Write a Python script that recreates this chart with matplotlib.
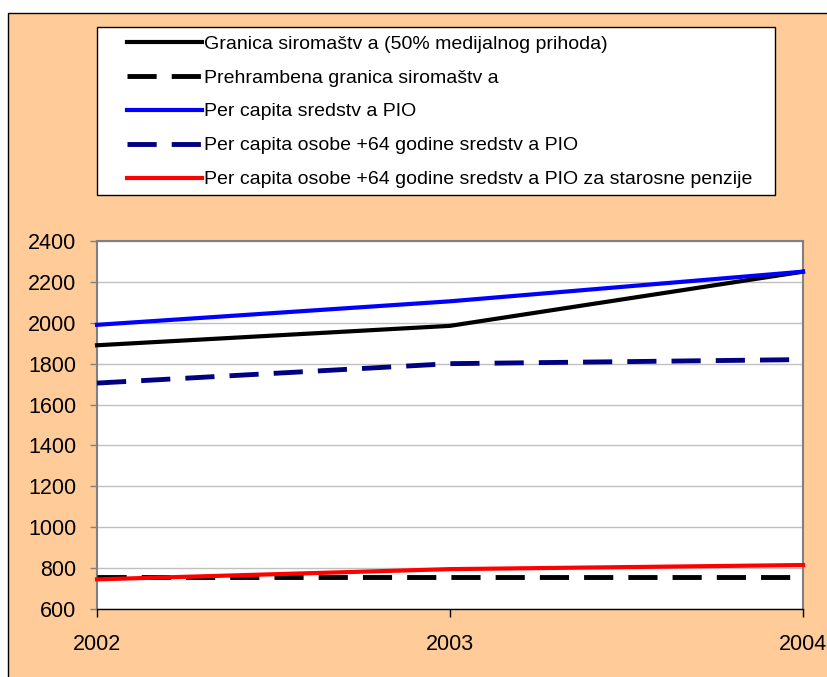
import matplotlib
matplotlib.use("Agg")
import matplotlib.pyplot as plt
from matplotlib.patches import Rectangle

plt.rcParams["font.family"] = ["Liberation Sans", "DejaVu Sans"]

years = ["2002", "2003", "2004"]
granica = [1890, 1985, 2250]
prehrambena = [755, 755, 755]
pio_per_capita = [1990, 2105, 2250]
pio_64 = [1705, 1800, 1820]
pio_64_starosne = [745, 795, 815]

labels = [
    "Granica siromaštv a (50% medijalnog prihoda)",
    "Prehrambena granica siromaštv a",
    "Per capita sredstv a PIO",
    "Per capita osobe +64 godine sredstv a PIO",
    "Per capita osobe +64 godine sredstv a PIO za starosne penzije",
]

PEACH = "#FFCC99"
W, H = 827, 677

fig = plt.figure(figsize=(W / 100, H / 100), dpi=100)
fig.patch.set_facecolor("white")

# outer chart area (cut at the right and bottom)
fig.patches.append(Rectangle((8 / W, -0.05), 1.1, (H - 13) / H + 0.05,
                             transform=fig.transFigure, facecolor=PEACH,
                             edgecolor="black", linewidth=1, zorder=-5))

# legend frame
fig.patches.append(Rectangle((97 / W, (H - 195) / H), (775 - 97) / W, (195 - 27) / H,
                             transform=fig.transFigure, facecolor="white",
                             edgecolor="black", linewidth=1, zorder=-4))

ax = fig.add_axes([97 / W, (H - 609) / H, (803 - 97) / W, (609 - 241) / H])
ax.set_facecolor("white")
ax.set_zorder(1)

x = list(range(len(years)))
lw = 3
ax.plot(x, granica, color="black", lw=lw, clip_on=False, zorder=3)
ax.plot(x, prehrambena, color="black", lw=3.5, dashes=(6, 3.1), clip_on=False, zorder=3)
ax.plot(x, pio_per_capita, color="#0000FF", lw=lw, clip_on=False, zorder=3)
ax.plot(x, pio_64, color="#000080", lw=3.5, dashes=(6, 3.1), clip_on=False, zorder=3)
ax.plot(x, pio_64_starosne, color="#FF0000", lw=lw, clip_on=False, zorder=4)

ax.set_xlim(0, 2)
ax.set_ylim(600, 2400)
ax.set_yticks(range(600, 2401, 200))
ax.set_xticks(x)
ax.set_xticklabels(years)
ax.yaxis.grid(True, color="#C0C0C0", lw=1)
ax.set_axisbelow(True)

for s in ("top", "right", "left"):
    ax.spines[s].set_color("#808080")
    ax.spines[s].set_linewidth(1.5)
ax.spines["bottom"].set_color("black")
ax.spines["bottom"].set_linewidth(1)
ax.tick_params(axis="y", direction="out", length=5, width=1, color="#808080",
               labelsize=15.5, pad=10)
ax.tick_params(axis="x", direction="out", length=6, width=1, color="black",
               labelsize=15.5, pad=12)

handles = ax.get_lines()
leg = fig.legend(handles, labels, loc="upper left",
                 bbox_to_anchor=(127 / W, (H - 35) / H),
                 bbox_transform=fig.transFigure,
                 fontsize=14, handlelength=3.85, handletextpad=0.1,
                 labelspacing=0.84, borderpad=0, borderaxespad=0,
                 frameon=False)

fig.savefig("out.png", dpi=100, facecolor=fig.get_facecolor())
